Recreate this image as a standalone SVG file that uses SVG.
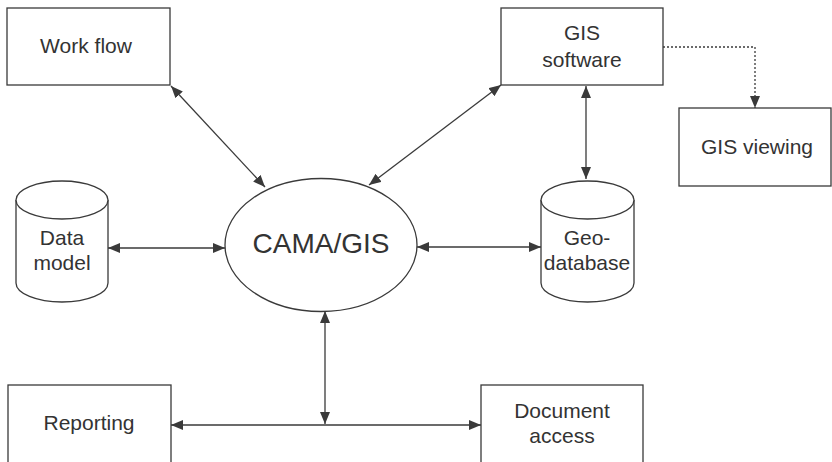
<svg xmlns="http://www.w3.org/2000/svg" width="832" height="462" viewBox="0 0 832 462">
<style>
.box{fill:#fff;stroke:#3a3a3a;stroke-width:1.3}
.t{font-family:"Liberation Sans",Arial,sans-serif;font-size:21px;fill:#333;text-anchor:middle}
.big{font-size:28px}
.c{fill:none;stroke:#3a3a3a;stroke-width:1.3}
</style>
<defs>
<marker id="ah" viewBox="0 0 12 10" refX="12" refY="5" markerWidth="12" markerHeight="10" markerUnits="userSpaceOnUse" orient="auto-start-reverse">
<path d="M0,0 L12,5 L0,10 z" fill="#3a3a3a"/>
</marker>
</defs>
<rect width="832" height="462" fill="#fff"/>
<g id="workflow"><rect class="box" x="7" y="8" width="163" height="77"/><text class="t" x="86" y="53">Work flow</text></g>
<g id="gissoftware"><rect class="box" x="501" y="8" width="162" height="77"/><text class="t" x="582" y="40">GIS</text><text class="t" x="582" y="67">software</text></g>
<g id="gisviewing"><rect class="box" x="679" y="108" width="152" height="78"/><text class="t" x="757" y="154">GIS viewing</text></g>
<g id="datamodel"><path class="box" d="M16,200 L16,283 A46,19 0 0 0 108,283 L108,200"/><ellipse class="box" cx="62" cy="200" rx="46" ry="19"/><text class="t" x="62" y="245">Data</text><text class="t" x="62" y="270">model</text></g>
<g id="geodatabase"><path class="box" d="M541,200 L541,283 A46.5,19 0 0 0 634,283 L634,200"/><ellipse class="box" cx="587.5" cy="200" rx="46.5" ry="19"/><text class="t" x="587" y="245">Geo-</text><text class="t" x="587" y="270">database</text></g>
<g id="cama"><ellipse class="box" cx="321" cy="245" rx="96" ry="66.5"/><text class="t big" x="321" y="253">CAMA/GIS</text></g>
<g id="reporting"><rect class="box" x="8" y="385" width="163" height="90"/><text class="t" x="89" y="430">Reporting</text></g>
<g id="docaccess"><rect class="box" x="481" y="385" width="162" height="90"/><text class="t" x="562" y="418">Document</text><text class="t" x="562" y="443">access</text></g>
<g id="connectors">
<line class="c" x1="171" y1="86" x2="265" y2="187" marker-start="url(#ah)" marker-end="url(#ah)"/>
<line class="c" x1="501" y1="85" x2="369" y2="185" marker-start="url(#ah)" marker-end="url(#ah)"/>
<line class="c" x1="586" y1="86" x2="586" y2="179" marker-start="url(#ah)" marker-end="url(#ah)"/>
<polyline class="c" points="663,47 755,47 755,108" stroke-dasharray="2,2" marker-end="url(#ah)"/>
<line class="c" x1="108" y1="248" x2="225" y2="248" marker-start="url(#ah)" marker-end="url(#ah)"/>
<line class="c" x1="417" y1="247" x2="541" y2="247" marker-start="url(#ah)" marker-end="url(#ah)"/>
<line class="c" x1="325" y1="311" x2="325" y2="424" marker-start="url(#ah)" marker-end="url(#ah)"/>
<line class="c" x1="171" y1="425" x2="481" y2="425" marker-start="url(#ah)" marker-end="url(#ah)"/>
</g>
</svg>
